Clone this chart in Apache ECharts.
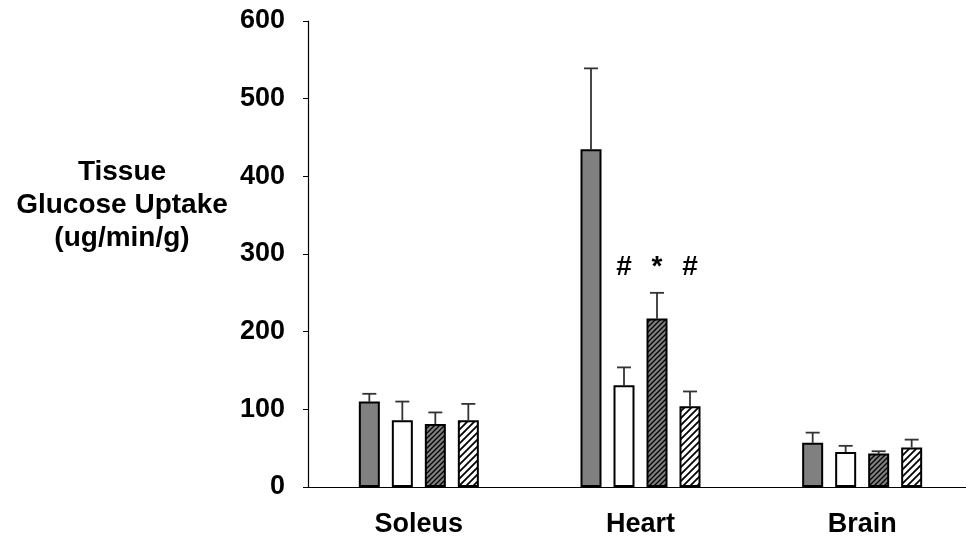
<!DOCTYPE html>
<html>
<head>
<meta charset="utf-8">
<script src="https://cdn.jsdelivr.net/npm/echarts@6/dist/echarts.min.js"></script>
<style>
  html, body { margin: 0; padding: 0; background: #fff; overflow: hidden; }
  #chart { width: 973px; height: 539px; }
</style>
</head>
<body>
<div id="chart"></div>
<script>
// Tissues and glucose uptake per group (mean and upward SEM)
const tissues = ['Soleus', 'Heart', 'Brain'];
const group1 = [110, 435, 57];
const group1Err = [10, 104, 13];
const group2 = [86, 131, 45];
const group2Err = [24, 23, 8];
const group3 = [81, 217, 43];
const group3Err = [15, 33, 3];
const group4 = [86, 104, 51];
const group4Err = [21, 19, 10];
// Significance marks above the Heart bars (series index, symbol)
const marks = [[1, '#'], [2, '*'], [3, '#']];
const markLevel = 283;
const markTissue = 'Heart';
const yTicks = [0, 100, 200, 300, 400, 500, 600];

const FONT = '"Liberation Sans", Arial, sans-serif';
const BAR_W = 21;
const BAR_GAP = 12;

function hatch(bg, lineColor, size, lineWidth) {
  const c = document.createElement('canvas');
  c.width = size; c.height = size;
  const ctx = c.getContext('2d');
  ctx.fillStyle = bg;
  ctx.fillRect(0, 0, size, size);
  ctx.strokeStyle = lineColor;
  ctx.lineWidth = lineWidth;
  ctx.beginPath();
  ctx.moveTo(0, size); ctx.lineTo(size, 0);
  ctx.moveTo(-size / 2, size / 2); ctx.lineTo(size / 2, -size / 2);
  ctx.moveTo(size / 2, size * 1.5); ctx.lineTo(size * 1.5, size / 2);
  ctx.stroke();
  return c;
}

const fills = [
  '#808080',
  '#ffffff',
  { image: hatch('#808080', '#000', 5, 1.3), repeat: 'repeat' },
  { image: hatch('#ffffff', '#000', 7, 1.8), repeat: 'repeat' }
];
const means = [group1, group2, group3, group4];
const errs = [group1Err, group2Err, group3Err, group4Err];

function offsetFor(i) {
  return (i - 1.5) * (BAR_W + BAR_GAP);
}

const barSeries = means.map((vals, i) => ({
  type: 'bar',
  data: vals,
  barWidth: BAR_W,
  barGap: (BAR_GAP / BAR_W * 100) + '%',
  itemStyle: { color: fills[i], borderColor: '#000', borderWidth: 2 },
  z: 2
}));

const errSeries = means.map((vals, i) => ({
  type: 'custom',
  data: vals.map((v, k) => [k, v, v + errs[i][k]]),
  renderItem: function (params, api) {
    const base = api.coord([api.value(0), api.value(1)]);
    const top = api.coord([api.value(0), api.value(2)]);
    const x = base[0] + offsetFor(i);
    return {
      type: 'group',
      children: [
        { type: 'line', shape: { x1: x, y1: base[1], x2: x, y2: top[1] },
          style: { stroke: '#333', lineWidth: 1.8 } },
        { type: 'line', shape: { x1: x - 7, y1: top[1], x2: x + 7, y2: top[1] },
          style: { stroke: '#333', lineWidth: 1.8 } }
      ]
    };
  },
  z: 1
}));

const markSeries = {
  type: 'custom',
  data: marks.map(m => [tissues.indexOf(markTissue), markLevel, m[0], m[1]]),
  renderItem: function (params, api) {
    const p = api.coord([api.value(0), api.value(1)]);
    const idx = api.value(2);
    const txt = marks[params.dataIndex][1];
    return {
      type: 'text',
      style: {
        x: p[0] + offsetFor(idx), y: p[1],
        text: txt, align: 'center', verticalAlign: 'middle',
        font: 'bold 28px ' + FONT, fill: '#000'
      }
    };
  },
  z: 3
};

const chart = echarts.init(document.getElementById('chart'), null, { renderer: 'canvas' });
chart.setOption({
  animation: false,
  backgroundColor: '#fff',
  title: {
    text: 'Tissue\nGlucose Uptake\n(ug/min/g)',
    left: 122, top: 156, padding: 0,
    textAlign: 'center',
    textStyle: { fontFamily: FONT, fontWeight: 'bold', fontSize: 28, lineHeight: 33, color: '#000' }
  },
  grid: { left: 308, top: 21, right: 0, bottom: 52, containLabel: false },
  xAxis: {
    type: 'category',
    data: tissues,
    axisLine: { lineStyle: { color: '#000', width: 1.2 } },
    axisTick: { alignWithLabel: true, length: 5, lineStyle: { color: '#000' } },
    axisLabel: { fontFamily: FONT, fontWeight: 'bold', fontSize: 27, color: '#000', margin: 24 },
    splitLine: { show: false }
  },
  yAxis: {
    type: 'value',
    min: yTicks[0], max: yTicks[yTicks.length - 1], interval: 100,
    axisLine: { show: true, lineStyle: { color: '#000', width: 1.2 } },
    axisTick: { show: true, length: 5, lineStyle: { color: '#000' } },
    axisLabel: { fontFamily: FONT, fontWeight: 'bold', fontSize: 27, color: '#000', margin: 23 },
    splitLine: { show: false }
  },
  series: [...barSeries, ...errSeries, markSeries]
});
</script>
</body>
</html>
